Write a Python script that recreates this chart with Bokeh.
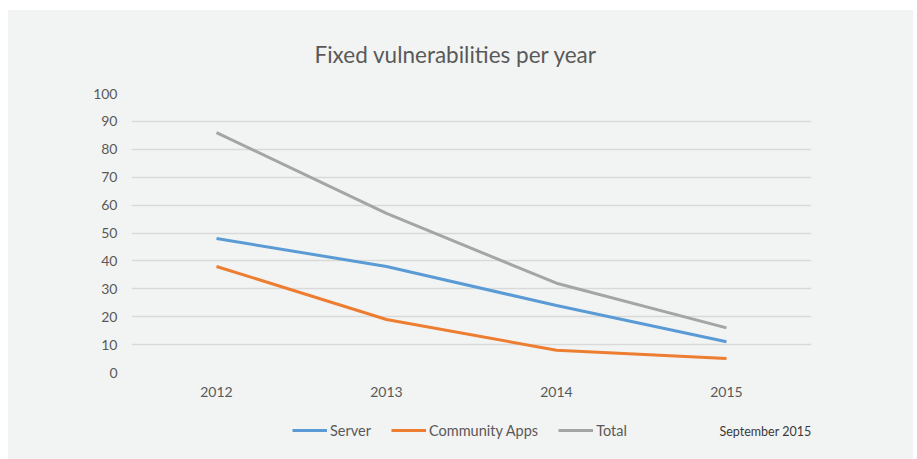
from bokeh.plotting import figure
from bokeh.models import Range1d, Legend, LegendItem, Label, Spacer
from bokeh.layouts import column, row
from bokeh.embed import file_html
from bokeh.resources import INLINE

years = ["2012", "2013", "2014", "2015"]
server = [48, 38, 24, 11]
community = [38, 19, 8, 5]
total = [86, 57, 32, 16]
y_ticks = list(range(0, 101, 10))
series_names = ["Server", "Community Apps", "Total"]
series_colors = ["#5b9bd5", "#ed7d31", "#a5a5a5"]
title_text = "Fixed vulnerabilities per year"
note_text = "September 2015"

BG = "#f2f4f3"
TXT = "#595959"
FONT = "Lato"

# main chart
p = figure(x_range=years, y_range=Range1d(0, 100), width=905, height=395,
           output_backend="svg", toolbar_location=None,
           min_border_left=123, min_border_right=102, min_border_top=83, min_border_bottom=33)
p.background_fill_color = None
p.border_fill_color = None
p.outline_line_color = None

p.title.text = title_text
p.title.align = "left"
p.title.offset = 183
p.title.standoff = 52
p.title.text_font = FONT
p.title.text_font_size = "22.5px"
p.title.text_font_style = "normal"
p.title.text_color = TXT

for vals, col in zip([server, community, total], series_colors):
    p.line(years, vals, line_color=col, line_width=3)

p.xgrid.grid_line_color = None
p.ygrid.grid_line_color = "#d9d9d9"
p.ygrid.grid_line_width = 1.5
p.yaxis.ticker = y_ticks
for ax in (p.xaxis[0], p.yaxis[0]):
    ax.axis_line_color = None
    ax.major_tick_line_color = None
    ax.minor_tick_line_color = None
    ax.major_label_text_color = TXT
    ax.major_label_text_font = FONT
    ax.major_label_text_font_size = "14px"
p.yaxis.major_label_standoff = 8
p.xaxis.major_label_standoff = 8

# legend strip (its frame is aligned with the main frame by the column layout)
q = figure(x_range=Range1d(0, 680), y_range=Range1d(0, 54), width=905, height=54,
           output_backend="svg", toolbar_location=None,
           min_border_left=123, min_border_right=102,
           min_border_top=0, min_border_bottom=0)
q.axis.visible = False
q.grid.visible = False
q.background_fill_color = None
q.border_fill_color = None
q.outline_line_color = None

nan = float("nan")
items = []
for name, col in zip(series_names, series_colors):
    r = q.line([nan], [nan], line_color=col, line_width=3)
    items.append(LegendItem(label=name, renderers=[r]))
legend = Legend(items=items, orientation="horizontal", location=(161, 19),
                background_fill_alpha=0, border_line_color=None,
                glyph_width=35, label_standoff=3, spacing=20, padding=4,
                label_text_font=FONT, label_text_font_size="14.5px",
                label_text_color=TXT)
q.add_layout(legend, "center")
q.add_layout(Label(x=588, y=28, text=note_text, text_align="left",
                   text_baseline="middle", text_font=FONT,
                   text_font_size="12.5px", text_color="#3a3a3a"))

panel = column(p, q, styles={"background-color": BG})
layout = row(Spacer(width=8, height=10),
             column(Spacer(height=10, width=905), panel))
open("out.html", "w").write(file_html(layout, INLINE))
